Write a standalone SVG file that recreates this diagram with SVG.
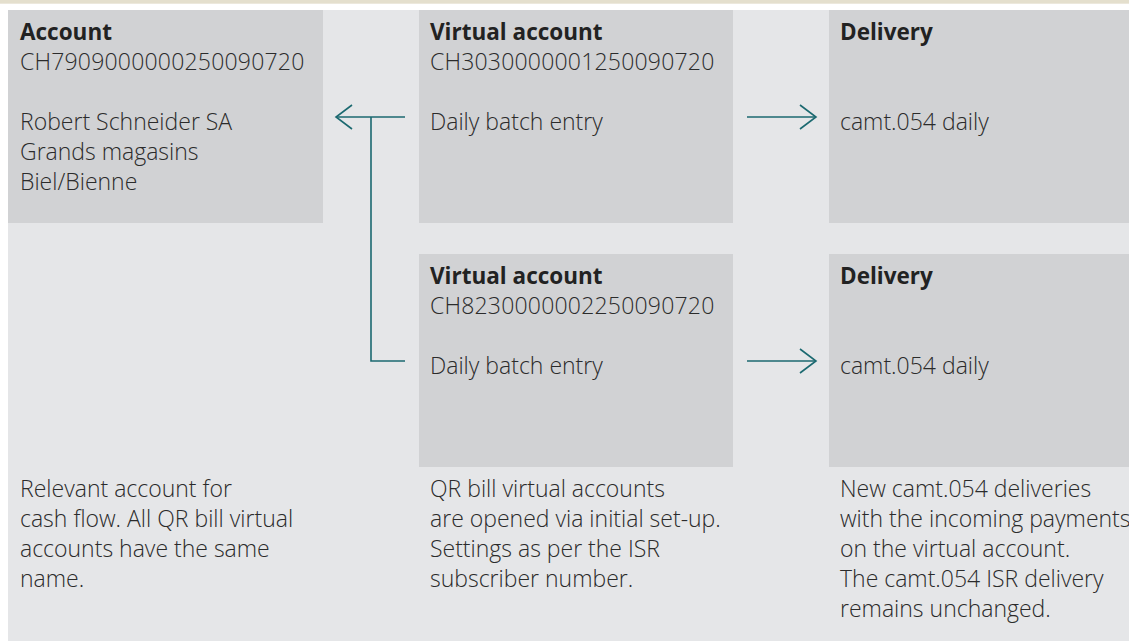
<svg xmlns="http://www.w3.org/2000/svg" width="1129" height="641" viewBox="0 0 1129 641">
  <style>
    .box { fill: #d1d2d4; }
    .t { font-family: "Open Sans", "Noto Sans", "Liberation Sans", sans-serif; font-size: 23px; font-weight: 300; fill: #2b2b2b; }
    .h { font-weight: 700; font-size: 22.5px; fill: #222222; }
    .iban { letter-spacing: 0.2px; }
    .conn { fill: none; stroke: #1b6970; stroke-width: 1.6; }
  </style>
  <defs>
    <marker id="arr" markerUnits="userSpaceOnUse" markerWidth="20" markerHeight="30" viewBox="-18 -14 20 28" refX="0" refY="0" orient="auto">
      <path d="M-16,-12 L0,0 L-16,12" fill="none" stroke="#1b6970" stroke-width="1.6"/>
    </marker>
  </defs>
  <rect x="0" y="0" width="1129" height="641" fill="#ffffff"/>
  <rect x="0" y="0" width="1129" height="3.7" fill="#e4dfcd"/>
  <rect x="8" y="10" width="1121" height="631" fill="#e5e6e8"/>

  <g id="account">
    <rect class="box" x="8" y="10" width="315" height="213"/>
    <text class="t h" x="20" y="40">Account</text>
    <text class="t iban" x="20" y="70">CH7909000000250090720</text>
    <text class="t" x="20" y="130">Robert Schneider SA</text>
    <text class="t" x="20" y="160">Grands magasins</text>
    <text class="t" x="20" y="190">Biel/Bienne</text>
  </g>
  <g id="virtual1">
    <rect class="box" x="419" y="10" width="314" height="213"/>
    <text class="t h" x="430" y="40">Virtual account</text>
    <text class="t iban" x="430" y="70">CH3030000001250090720</text>
    <text class="t" x="430" y="130">Daily batch entry</text>
  </g>
  <g id="delivery1">
    <rect class="box" x="829" y="10" width="300" height="213"/>
    <text class="t h" x="840" y="40">Delivery</text>
    <text class="t" x="840" y="130">camt.054 daily</text>
  </g>
  <g id="virtual2">
    <rect class="box" x="419" y="254" width="314" height="213"/>
    <text class="t h" x="430" y="284">Virtual account</text>
    <text class="t iban" x="430" y="314">CH8230000002250090720</text>
    <text class="t" x="430" y="374">Daily batch entry</text>
  </g>
  <g id="delivery2">
    <rect class="box" x="829" y="254" width="300" height="213"/>
    <text class="t h" x="840" y="284">Delivery</text>
    <text class="t" x="840" y="374">camt.054 daily</text>
  </g>

  <g id="notes">
    <text class="t" x="20" y="497">Relevant account for</text>
    <text class="t" x="20" y="527">cash flow. All QR bill virtual</text>
    <text class="t" x="20" y="557">accounts have the same</text>
    <text class="t" x="20" y="587">name.</text>
    <text class="t" x="430" y="497">QR bill virtual accounts</text>
    <text class="t" x="430" y="527">are opened via initial set-up.</text>
    <text class="t" x="430" y="557">Settings as per the ISR</text>
    <text class="t" x="430" y="587">subscriber number.</text>
    <text class="t" x="840" y="497">New camt.054 deliveries</text>
    <text class="t" x="840" y="527">with the incoming payments</text>
    <text class="t" x="840" y="557">on the virtual account.</text>
    <text class="t" x="840" y="587">The camt.054 ISR delivery</text>
    <text class="t" x="840" y="617">remains unchanged.</text>
  </g>

  <g id="connectors">
    <path class="conn" d="M405,117 L336,117" marker-end="url(#arr)"/>
    <path class="conn" d="M371,117 L371,361 L405,361"/>
    <path class="conn" d="M747,117 L816,117" marker-end="url(#arr)"/>
    <path class="conn" d="M747,361 L816,361" marker-end="url(#arr)"/>
  </g>
</svg>
